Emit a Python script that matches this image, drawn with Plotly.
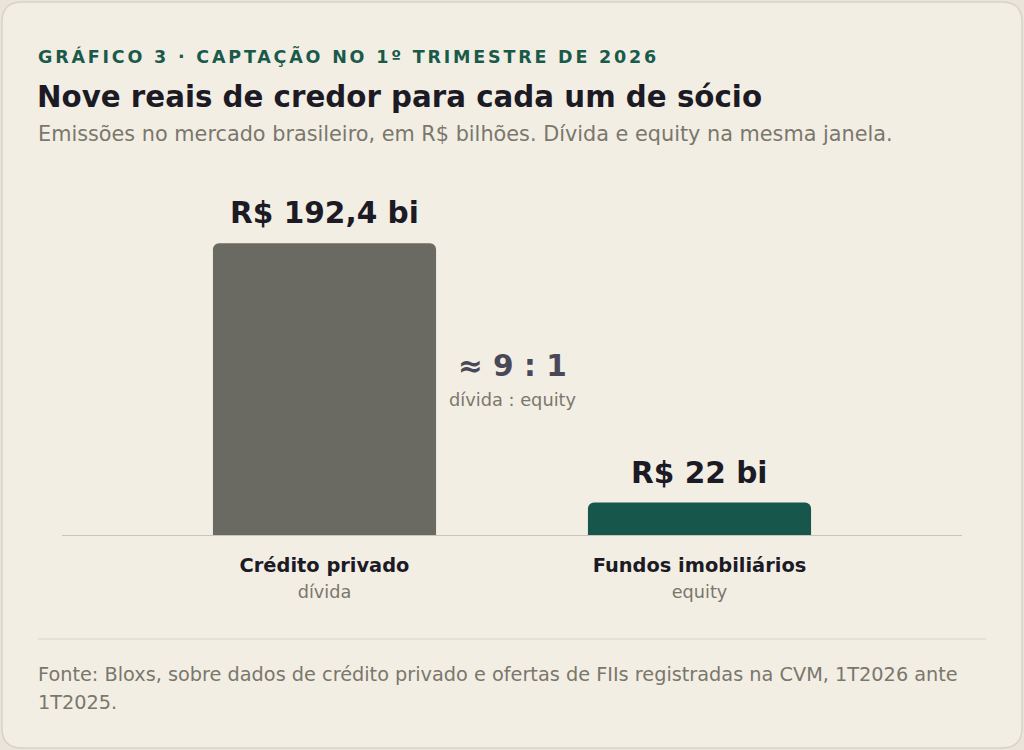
import plotly.graph_objects as go

# data
categories = ["Crédito privado", "Fundos imobiliários"]
kinds = ["dívida", "equity"]
values = [192.4, 22.0]
value_labels = ["R$ 192,4 bi", "R$ 22 bi"]
bar_colors = ["#6b6a62", "#17574b"]

kicker = "GRÁFICO 3 · CAPTAÇÃO NO 1º TRIMESTRE DE 2026"
title = "Nove reais de credor para cada um de sócio"
subtitle = "Emissões no mercado brasileiro, em R$ bilhões. Dívida e equity na mesma janela."
source_lines = ["Fonte: Bloxs, sobre dados de crédito privado e ofertas de FIIs registradas na CVM, 1T2026 ante",
                "1T2025."]

W, H = 1024, 750
FONT = "DejaVu Sans"
OUTER = "#e9e5da"
CARD = "#f2eee4"
GREY = "#7a776c"


def px(x):
    return x / W


def py(y):
    return 1 - y / H


def rounded_rect(x0, y0, x1, y1, r):
    # pixel coords -> paper path
    rx, ry = r / W, r / H
    a, b, c, d = px(x0), py(y1), px(x1), py(y0)
    return (f"M{a + rx},{b} L{c - rx},{b} Q{c},{b} {c},{b + ry} "
            f"L{c},{d - ry} Q{c},{d} {c - rx},{d} L{a + rx},{d} "
            f"Q{a},{d} {a},{d - ry} L{a},{b + ry} Q{a},{b} {a + rx},{b} Z")


ticktext = [f"<b>{c}</b><br><span style='font-size:17.7px;color:{GREY}'>{k}</span>"
            for c, k in zip(categories, kinds)]

fig = go.Figure()
fig.add_trace(go.Bar(
    x=[0, 1], y=values, width=0.595,
    marker=dict(color=bar_colors, cornerradius=6, line=dict(width=0)),
    hoverinfo="skip",
))

ratio = round(values[0] / values[1])

annotations = [
    dict(x=px(36), y=py(56), text=f"<span style='letter-spacing:2.8px'>{kicker}</span>",
         font=dict(family=FONT, size=17.5, color="#1a5a4a", weight="bold")),
    dict(x=px(35), y=py(97), text=f"<b>{title}</b>",
         font=dict(family=FONT, size=29.3, color="#1c1a24")),
    dict(x=px(36), y=py(134), text=subtitle,
         font=dict(family=FONT, size=20.8, color=GREY)),
    dict(x=px(36), y=py(674), text=source_lines[0],
         font=dict(family=FONT, size=19.3, color=GREY)),
    dict(x=px(36), y=py(702), text=source_lines[1],
         font=dict(family=FONT, size=19.3, color=GREY)),
]
for a in annotations:
    a.update(xref="paper", yref="paper", xanchor="left", yanchor="middle", showarrow=False)

# value labels over the bars
for i, (v, lab) in enumerate(zip(values, value_labels)):
    annotations.append(dict(x=i, y=v, xref="x", yref="y", text=f"<b>{lab}</b>",
                            showarrow=False, yanchor="bottom", yshift=11,
                            font=dict(family=FONT, size=29.6, color="#1c1a24")))

# ratio callout
annotations.append(dict(x=0.5, y=py(366), xref="paper", yref="paper", showarrow=False,
                        text=f"<b>≈ {ratio} : 1</b>",
                        font=dict(family=FONT, size=29.6, color="#4a4858")))
annotations.append(dict(x=0.5, y=py(399), xref="paper", yref="paper", showarrow=False,
                        text=f"{kinds[0]} : {kinds[1]}",
                        font=dict(family=FONT, size=17.8, color=GREY)))

shapes = [
    dict(type="path", path=rounded_rect(2, 2, 1022, 748, 20), xref="paper", yref="paper",
         fillcolor=CARD, line=dict(color="#d8d3c6", width=1.5), layer="below"),
    dict(type="line", xref="paper", yref="y", x0=px(62), x1=px(962), y0=0, y1=0,
         line=dict(color="#c9c5ba", width=2), layer="above"),
    dict(type="line", xref="paper", yref="paper", x0=px(38), x1=px(986), y0=py(639), y1=py(639),
         line=dict(color="#e2ddd2", width=1.5)),
]

fig.update_layout(
    width=W, height=H,
    margin=dict(l=0, r=0, t=0, b=0),
    paper_bgcolor=OUTER, plot_bgcolor="rgba(0,0,0,0)",
    showlegend=False,
    font=dict(family=FONT),
    xaxis=dict(domain=[px(62), px(962)], range=[-0.7, 1.7],
               tickvals=[0, 1], ticktext=ticktext,
               tickfont=dict(family=FONT, size=19.4, color="#1c1a24"),
               showgrid=False, zeroline=False, showline=False, ticks="", ticklabelstandoff=16),
    yaxis=dict(domain=[py(536), py(186)], range=[0, 230], visible=False),
    annotations=annotations,
    shapes=shapes,
)

fig.write_html("out.html", config={"displayModeBar": False},
               post_script="document.body.style.margin='0';document.body.style.overflow='hidden';")
